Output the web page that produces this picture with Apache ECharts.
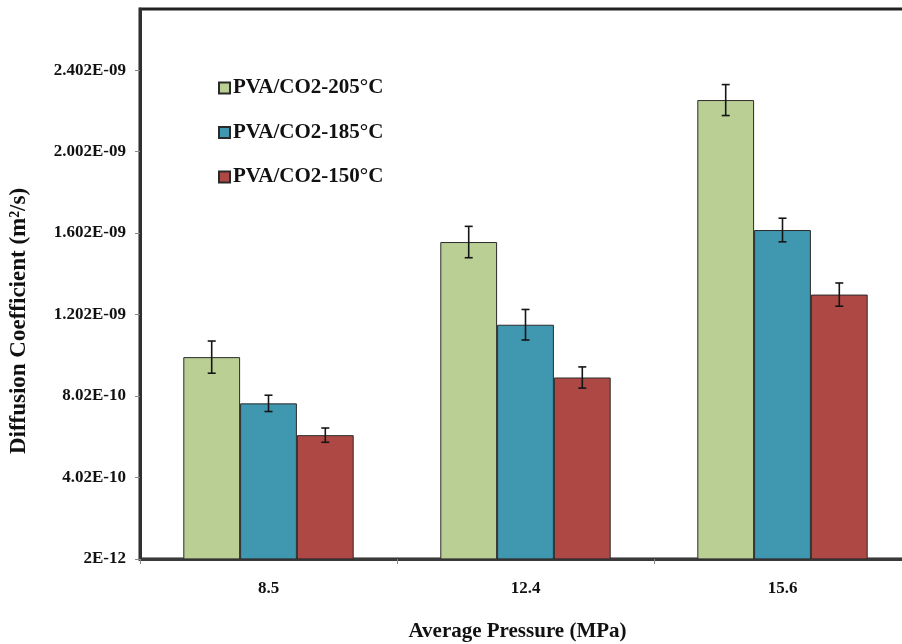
<!DOCTYPE html>
<html>
<head>
<meta charset="utf-8">
<script src="https://cdn.jsdelivr.net/npm/echarts@6/dist/echarts.min.js"></script>
<style>
html,body{margin:0;padding:0;background:#fff;}
#chart{width:902px;height:644px;}
</style>
</head>
<body>
<div id="chart"></div>
<script>
// ---- data ----
const categories = ['8.5', '12.4', '15.6'];
const seriesNames = ['PVA/CO2-205°C', 'PVA/CO2-185°C', 'PVA/CO2-150°C'];
const values205 = [9.93e-10, 1.558e-9, 2.255e-9];
const values185 = [7.66e-10, 1.152e-9, 1.617e-9];
const values150 = [6.10e-10, 8.93e-10, 1.300e-9];
const errors205 = [7.9e-11, 7.7e-11, 7.6e-11];
const errors185 = [4.0e-11, 7.5e-11, 5.8e-11];
const errors150 = [3.5e-11, 5.2e-11, 5.7e-11];
const yTickValues = [2e-12, 4.02e-10, 8.02e-10, 1.202e-9, 1.602e-9, 2.002e-9, 2.402e-9];
const yTickLabels = ['2E-12', '4.02E-10', '8.02E-10', '1.202E-09', '1.602E-09', '2.002E-09', '2.402E-09'];

const colors = ['#BACF94', '#4097B0', '#AE4845'];
const barFrac = 0.221;
const font = '"Liberation Serif", "Times New Roman", serif';

const allValues = [values205, values185, values150];
const allErrors = [errors205, errors185, errors150];

function labelFor(v) {
  let best = 0, bd = Infinity;
  yTickValues.forEach((t, i) => { const d = Math.abs(t - v); if (d < bd) { bd = d; best = i; } });
  return yTickLabels[best];
}

const barSeries = seriesNames.map((name, k) => ({
  name: name,
  type: 'bar',
  data: allValues[k],
  barWidth: (barFrac * 100) + '%',
  barGap: '0%',
  itemStyle: { color: colors[k], borderColor: '#2a2a2a', borderWidth: 1 },
  z: 2
}));

const errSeries = seriesNames.map((name, k) => ({
  type: 'custom',
  silent: true,
  z: 10,
  encode: { x: 0, y: 1 },
  data: allValues[k].map((v, i) => [i, v, allErrors[k][i]]),
  renderItem: function (params, api) {
    const ci = api.value(0), v = api.value(1), e = api.value(2);
    const band = api.size([1, 0])[0];
    const x = api.coord([ci, v])[0] + (k - 1) * band * barFrac;
    const yT = api.coord([ci, v + e])[1];
    const yB = api.coord([ci, v - e])[1];
    const cap = 4;
    const st = { stroke: '#151515', lineWidth: 1.6 };
    return {
      type: 'group',
      children: [
        { type: 'line', shape: { x1: x, y1: yT, x2: x, y2: yB }, style: st },
        { type: 'line', shape: { x1: x - cap, y1: yT, x2: x + cap, y2: yT }, style: st },
        { type: 'line', shape: { x1: x - cap, y1: yB, x2: x + cap, y2: yB }, style: st }
      ]
    };
  }
}));

const chart = echarts.init(document.getElementById('chart'));
chart.setOption({
  animation: false,
  backgroundColor: '#ffffff',
  textStyle: { fontFamily: font },
  grid: {
    left: 140, top: 9, width: 771, height: 550,
    outerBoundsMode: 'none',
    containLabel: false,
    show: true, borderColor: '#222', borderWidth: 3, backgroundColor: 'transparent'
  },
  legend: {
    data: seriesNames,
    orient: 'vertical',
    left: 213, top: 72,
    itemWidth: 11, itemHeight: 11,
    itemGap: 22.5,
    icon: 'rect',
    textStyle: { fontFamily: font, fontWeight: 'bold', fontSize: 21, color: '#111', lineHeight: 22, padding: [0, 0, 0, -2] }
  },
  xAxis: {
    type: 'category',
    data: categories,
    name: 'Average Pressure (MPa)',
    nameLocation: 'middle',
    nameGap: 62,
    nameTextStyle: { fontFamily: font, fontWeight: 'bold', fontSize: 21, color: '#111', padding: [0, 16, 0, 0] },
    axisLine: { lineStyle: { color: '#3a3a3a', width: 3 } },
    axisTick: { show: true, length: 5, lineStyle: { color: '#888', width: 1 } },
    axisLabel: { margin: 21, fontFamily: font, fontWeight: 'bold', fontSize: 17, color: '#111' }
  },
  yAxis: {
    type: 'value',
    min: 2e-12, max: 2.702e-9, interval: 4e-10,
    name: 'Diffusion Coefficient (m²/s)',
    nameLocation: 'middle',
    nameGap: 109,
    nameRotate: 90,
    nameTextStyle: { fontFamily: font, fontWeight: 'bold', fontSize: 23, color: '#111', padding: [0, 74, 0, 0] },
    splitLine: { show: false },
    axisLine: { show: true, lineStyle: { color: '#2f2f2f', width: 3 } },
    axisTick: { show: true, length: 5, customValues: yTickValues, lineStyle: { color: '#888', width: 1 } },
    axisLabel: {
      customValues: yTickValues,
      margin: 14,
      fontFamily: font, fontWeight: 'bold', fontSize: 17, color: '#111',
      formatter: labelFor
    }
  },
  series: barSeries.concat(errSeries)
});
</script>
</body>
</html>
